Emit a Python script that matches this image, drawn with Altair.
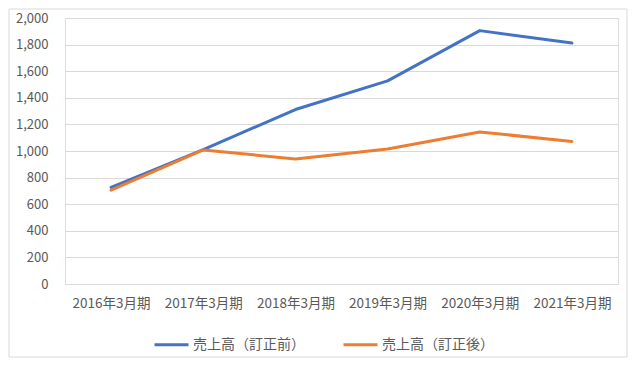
import altair as alt
import pandas as pd

periods = ["2016年3月期", "2017年3月期", "2018年3月期", "2019年3月期", "2020年3月期", "2021年3月期"]
series_names = ["売上高（訂正前）", "売上高（訂正後）"]
before = [726, 1010, 1312, 1527, 1905, 1812]
after = [706, 1008, 940, 1015, 1143, 1072]
colors = ["#4472C4", "#ED7D31"]
y_ticks = [0, 200, 400, 600, 800, 1000, 1200, 1400, 1600, 1800, 2000]

rows = []
for p, v in zip(periods, before):
    rows.append({"period": p, "series": series_names[0], "value": v})
for p, v in zip(periods, after):
    rows.append({"period": p, "series": series_names[1], "value": v})
df = pd.DataFrame(rows)

FONT = "Noto Sans CJK JP"
W, H = 553, 266

border = alt.Chart(pd.DataFrame({"a": [0]})).mark_rect(
    fill="white", fillOpacity=0, stroke="#d9d9d9", strokeWidth=1, clip=False
).encode(
    x=alt.value(-56), x2=alt.value(W + 9), y=alt.value(-9), y2=alt.value(H + 73)
)

lines = alt.Chart(df).mark_line(strokeWidth=3, strokeJoin="round", strokeCap="round").encode(
    x=alt.X("period:N", sort=periods, title=None,
            scale=alt.Scale(type="point", padding=0.5),
            axis=alt.Axis(labelAngle=0, ticks=False, domainColor="#d9d9d9", labelPadding=12,
                          labelFontSize=13.5, labelColor="#595959", labelFont=FONT)),
    y=alt.Y("value:Q", title=None, scale=alt.Scale(domain=[0, 2000], nice=False),
            axis=alt.Axis(values=y_ticks, format=",.0f", ticks=False, domain=False,
                          gridColor="#d9d9d9", labelPadding=17, labelFontSize=13,
                          labelColor="#595959", labelFont=FONT)),
    color=alt.Color("series:N", sort=series_names,
                    scale=alt.Scale(domain=series_names, range=colors),
                    legend=alt.Legend(title=None, orient="none", direction="horizontal",
                                      legendX=88, legendY=308, symbolType="stroke",
                                      symbolSize=1156, symbolStrokeWidth=3, labelFontSize=14,
                                      labelColor="#595959", labelFont=FONT, labelOffset=3,
                                      columnPadding=32)),
    order=alt.Order("series:N"),
)

chart = alt.layer(border, lines).properties(
    width=W, height=H,
    autosize=alt.AutoSizeParams(type="none"),
    padding={"left": 57, "top": 10, "right": 10, "bottom": 74},
).configure_view(stroke=None).configure(font=FONT)

chart.save("out.html", embed_options={"renderer": "svg", "actions": False})
